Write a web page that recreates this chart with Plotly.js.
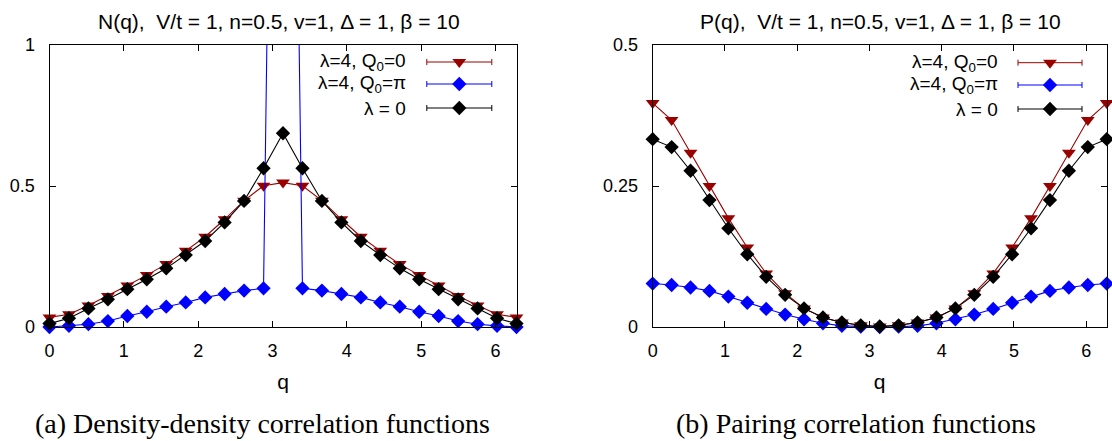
<!DOCTYPE html>
<html>
<head>
<meta charset="utf-8">
<script src="https://cdn.plot.ly/plotly-3.0.1.min.js"></script>
<style>html,body{margin:0;padding:0;background:#fff;}#chart{width:1112px;height:441px;}</style>
</head>
<body>
<div id="chart"></div>
<script>
// ---- data ----
const q = [0, 0.2618, 0.5236, 0.7854, 1.0472, 1.3090, 1.5708, 1.8326, 2.0944, 2.3562, 2.6180, 2.8798,
           3.1416, 3.4034, 3.6652, 3.9270, 4.1888, 4.4506, 4.7124, 4.9742, 5.2360, 5.4978, 5.7596, 6.0214, 6.2832];

// N(q) density-density
const N_lam4_Q0 = [0.034, 0.045, 0.076, 0.110, 0.147, 0.184, 0.223, 0.270, 0.320, 0.382, 0.448, 0.501,
                   0.512, 0.501, 0.448, 0.382, 0.320, 0.270, 0.223, 0.184, 0.147, 0.110, 0.076, 0.045, 0.034];
const N_lam4_Qpi = [0.000, 0.004, 0.010, 0.021, 0.039, 0.054, 0.072, 0.087, 0.105, 0.117, 0.129, 0.137,
                    5.2, 0.137, 0.129, 0.117, 0.105, 0.087, 0.072, 0.054, 0.039, 0.021, 0.010, 0.004, 0.000];
const N_lam0 = [0.012, 0.031, 0.066, 0.098, 0.134, 0.169, 0.208, 0.255, 0.305, 0.371, 0.447, 0.563,
                0.687, 0.563, 0.447, 0.371, 0.305, 0.255, 0.208, 0.169, 0.134, 0.098, 0.066, 0.031, 0.012];

// P(q) pairing
const P_lam4_Q0 = [0.397, 0.367, 0.309, 0.250, 0.193, 0.141, 0.095, 0.060, 0.033, 0.017, 0.008, 0.003,
                   0.001, 0.003, 0.008, 0.017, 0.033, 0.060, 0.095, 0.141, 0.193, 0.250, 0.309, 0.367, 0.397];
const P_lam4_Qpi = [0.077, 0.0745, 0.070, 0.064, 0.054, 0.043, 0.032, 0.022, 0.0136, 0.0065, 0.002, 0.0005,
                    0.0, 0.0005, 0.002, 0.0065, 0.0136, 0.022, 0.032, 0.043, 0.054, 0.064, 0.070, 0.0745, 0.077];
const P_lam0 = [0.333, 0.319, 0.277, 0.225, 0.175, 0.129, 0.089, 0.057, 0.033, 0.017, 0.008, 0.003,
                0.001, 0.003, 0.008, 0.017, 0.033, 0.057, 0.089, 0.129, 0.175, 0.225, 0.277, 0.319, 0.333];

const seriesNames = ['λ=4, Q<sub>0</sub>=0', 'λ=4, Q<sub>0</sub>=π', 'λ = 0'];
const xTicks = [0, 1, 2, 3, 4, 5, 6];
const yTicksN = [0, 0.5, 1];
const yTicksNText = ['0', '0.5', '1'];
const yTicksP = [0, 0.25, 0.5];
const yTicksPText = ['0', '0.25', '0.5'];
const titles = ['N(q),  V/t = 1, n=0.5, v=1, Δ = 1, β = 10', 'P(q),  V/t = 1, n=0.5, v=1, Δ = 1, β = 10'];
const captions = ['(a) Density-density correlation functions', '(b) Pairing correlation functions'];

// ---- styles ----
const W = 1112, H = 441, T = 45, B = 114;
const colors = ['#990000', '#0000ff', '#000000'];
const symbols = ['triangle-down', 'diamond', 'diamond'];
const sizes = [12, 11, 11];
const FONT = 'Liberation Sans, Arial, sans-serif';

const px = x => x / W;
const py = y => (H - B - y) / (H - T - B);

function series(ys, i, xa, ya) {
  return {
    x: q, y: ys, xaxis: xa, yaxis: ya, type: 'scatter', mode: 'lines+markers',
    line: {color: colors[i], width: 1.1},
    marker: {symbol: symbols[i], size: sizes[i], color: colors[i], line: {width: 0}},
    cliponaxis: false, showlegend: false, hoverinfo: 'skip'
  };
}

const traces = [
  series(N_lam4_Q0, 0, 'x', 'y'), series(N_lam4_Qpi, 1, 'x', 'y'), series(N_lam0, 2, 'x', 'y'),
  series(P_lam4_Q0, 0, 'x2', 'y2'), series(P_lam4_Qpi, 1, 'x2', 'y2'), series(P_lam0, 2, 'x2', 'y2')
];

// legend keys (pixel overlay axis)
const legendPanels = [
  {mx: 459.3, half: 32.5, tx: 408, rows: [62, 84, 108]},
  {mx: 1050, half: 32, tx: 1000, rows: [62.7, 85, 109]}
];
const annotations = [];
legendPanels.forEach(lp => {
  for (let i = 0; i < 3; i++) {
    traces.push({
      x: [lp.mx], y: [lp.rows[i]], xaxis: 'x3', yaxis: 'y3', type: 'scatter', mode: 'markers',
      marker: {symbol: symbols[i], size: sizes[i], color: colors[i], line: {width: 0}},
      error_x: {type: 'constant', value: lp.half, width: 3, thickness: 1, color: colors[i]},
      cliponaxis: false, showlegend: false, hoverinfo: 'skip'
    });
    annotations.push({
      xref: 'paper', yref: 'paper', x: px(lp.tx), y: py(lp.rows[i]), xanchor: 'right', yanchor: 'middle',
      text: seriesNames[i], showarrow: false, font: {family: FONT, size: 19, color: '#000'}
    });
  }
});

// panel titles
[[279, titles[0]], [880, titles[1]]].forEach(([cx, t]) => {
  annotations.push({xref: 'paper', yref: 'paper', x: px(cx), y: py(21), xanchor: 'center', yanchor: 'middle',
    text: t, showarrow: false, font: {family: FONT, size: 21, color: '#000'}});
});
// captions
[[262, captions[0]], [856, captions[1]]].forEach(([cx, t]) => {
  annotations.push({xref: 'paper', yref: 'paper', x: px(cx), y: py(423), xanchor: 'center', yanchor: 'middle',
    text: t, showarrow: false, font: {family: 'Liberation Serif, Times New Roman, serif', size: 28, color: '#000'}});
});

function xAxis(domain, anchor) {
  return {
    domain: domain, anchor: anchor, range: [0, 6.2832], tickvals: xTicks, ticktext: xTicks.map(String),
    ticks: 'inside', ticklen: 6, tickwidth: 1, tickcolor: '#000', mirror: 'ticks',
    showline: true, linecolor: '#000', linewidth: 1, showgrid: false, zeroline: false,
    tickfont: {family: FONT, size: 18, color: '#000'}, ticklabelstandoff: 7,
    title: {text: 'q', font: {family: FONT, size: 21, color: '#000'}, standoff: 14}
  };
}
function yAxis(domain, anchor, range, vals, text) {
  return {
    domain: domain, anchor: anchor, range: range, tickvals: vals, ticktext: text,
    ticks: 'inside', ticklen: 6, tickwidth: 1, tickcolor: '#000', mirror: 'ticks',
    showline: true, linecolor: '#000', linewidth: 1, showgrid: false, zeroline: false,
    tickfont: {family: FONT, size: 18, color: '#000'}, ticklabelstandoff: 10
  };
}

const layout = {
  width: W, height: H, margin: {l: 0, r: 0, t: T, b: B}, paper_bgcolor: '#fff', plot_bgcolor: 'rgba(0,0,0,0)',
  showlegend: false,
  xaxis: xAxis([49.5 / W, 516.5 / W], 'y'),
  yaxis: yAxis([0, 1], 'x', [0, 1], yTicksN, yTicksNText),
  xaxis2: xAxis([652.7 / W, 1106.7 / W], 'y2'),
  yaxis2: yAxis([0, 1], 'x2', [0, 0.5], yTicksP, yTicksPText),
  xaxis3: {domain: [0, 1], anchor: 'y3', range: [0, W], visible: false, fixedrange: true},
  yaxis3: {domain: [0, 1], anchor: 'x3', range: [H - B, T], visible: false, fixedrange: true},
  annotations: annotations
};

Plotly.newPlot('chart', traces, layout, {staticPlot: true, displayModeBar: false});
</script>
</body>
</html>
